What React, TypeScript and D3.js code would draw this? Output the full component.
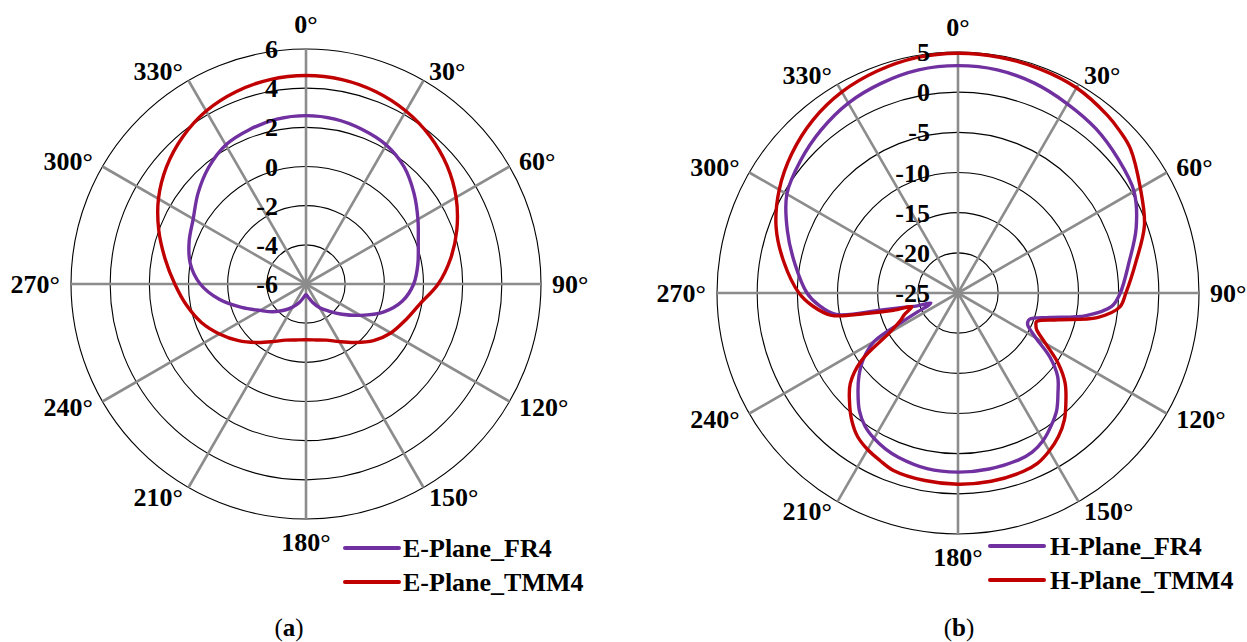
import React from 'react';
import * as d3 from 'd3';

// ---------- DATA ----------
const angleTicks = [0, 30, 60, 90, 120, 150, 180, 210, 240, 270, 300, 330];

const eTicks = [-6, -4, -2, 0, 2, 4, 6];
const hTicks = [-25, -20, -15, -10, -5, 0, 5];

const eAngles = [0, 10, 20, 30, 40, 50, 60, 70, 80, 90, 100, 110, 120, 130, 140, 150, 160, 170,
  180, 190, 200, 210, 220, 230, 240, 250, 260, 270, 280, 290, 300, 310, 320, 330, 340, 350];
const eFr4 = [2.6, 2.55, 2.4, 2.2, 1.8, 1.2, 0.6, 0.1, -0.2, -0.5, -1.0, -1.8, -2.8, -3.6, -4.2, -4.6,
  -5.0, -5.3, -5.45, -5.3, -5.0, -4.65, -4.25, -3.8, -3.3, -2.5, -1.5, -0.6, 0.0, 0.35, 0.65, 1.2, 1.75, 2.2, 2.4, 2.55];
const eTmm4 = [4.65, 4.6, 4.45, 4.2, 3.85, 3.4, 2.85, 2.2, 1.5, 0.75, -0.1, -0.6, -1.0, -1.5, -2.1, -2.6,
  -2.95, -3.1, -3.15, -3.1, -2.95, -2.6, -2.1, -1.5, -0.9, -0.3, 0.2, 0.7, 1.3, 2.0, 2.7, 3.3, 3.8, 4.2, 4.45, 4.6];

const hFr4Angles = [0, 10, 20, 30, 40, 50, 60, 70, 80, 90, 95, 100, 105, 110, 112.5, 115, 120, 125, 130, 135,
  140, 145, 150, 155, 160, 170, 180, 190, 200, 205, 210, 215, 220, 225, 230, 235, 240, 242.5, 245, 247.5,
  250, 252.5, 255, 257.5, 260, 265, 270, 280, 290, 300, 310, 320, 330, 340, 350];
const hFr4 = [3.3, 3.2, 2.8, 2.2, 1.7, 1.0, 0.3, -1.4, -3.4, -4.8, -5.8, -8.8, -13.2, -15.5, -15.6, -15.4, -13.8, -11.0, -8.8, -7.4,
  -5.9, -4.8, -3.8, -3.15, -2.9, -2.75, -2.7, -2.8, -3.25, -3.6, -4.1, -4.8, -5.9, -7.4, -8.9, -10.6, -13.0, -17.0, -19.5, -21.0,
  -21.4, -19.7, -18.2, -15.3, -9.6, -7.6, -6.2, -4.4, -2.4, -0.4, 0.6, 1.5, 2.3, 2.8, 3.2];

const hTmm4Angles = [0, 10, 20, 30, 40, 45, 50, 60, 70, 80, 90, 95, 100, 105, 110, 112.5, 115, 120, 125, 130,
  135, 140, 145, 150, 155, 160, 170, 180, 190, 200, 205, 210, 215, 220, 225, 230, 235, 240, 245, 248,
  251, 253.5, 255, 257.5, 260, 265, 270, 280, 290, 300, 310, 320, 330, 340, 350];
const hTmm4 = [4.85, 4.8, 4.7, 4.5, 3.9, 3.5, 3.0, 1.2, -0.3, -2.5, -4.1, -4.8, -7.4, -12.1, -14.6, -14.5, -14.2, -12.4, -9.8, -7.6,
  -6.0, -4.4, -3.2, -2.3, -1.6, -1.35, -1.2, -1.2, -1.3, -1.5, -2.0, -2.5, -3.2, -4.4, -5.9, -7.5, -10.3, -15.2, -17.2, -17.8,
  -18.6, -19.0, -16.7, -13.2, -9.0, -6.8, -5.2, -3.0, -0.9, 0.7, 2.0, 3.1, 3.9, 4.4, 4.75];

const eSeriesNames = ['E-Plane_FR4', 'E-Plane_TMM4'];
const hSeriesNames = ['H-Plane_FR4', 'H-Plane_TMM4'];

const PURPLE = '#7030A0';
const RED = '#C00000';
const FONT = "'Liberation Serif', 'Times New Roman', serif";

type Series = { name: string; color: string; angles: number[]; values: number[] };

function PolarPanel(props: {
  cx: number; cy: number; R: number; ticks: number[]; series: Series[];
  legendX: number; legendY: number; legendGap: number; caption: string; captionX: number;
}) {
  const { cx, cy, R, ticks, series, legendX, legendY, legendGap, caption, captionX } = props;
  const r = d3.scaleLinear().domain([ticks[0], ticks[ticks.length - 1]]).range([0, R]);
  const toRad = (a: number) => (a * Math.PI) / 180;
  const line = d3
    .lineRadial<{ a: number; v: number }>()
    .angle((d) => toRad(d.a))
    .radius((d) => r(d.v))
    .curve(d3.curveCatmullRomClosed.alpha(0.5));

  return (
    <g>
      {ticks.slice(1).map((t) => (
        <circle key={'c' + t} cx={cx} cy={cy} r={r(t)} fill="none" stroke="#000" strokeWidth={1.1} />
      ))}
      {angleTicks.map((a) => (
        <line
          key={'s' + a}
          x1={cx}
          y1={cy}
          x2={cx + R * Math.sin(toRad(a))}
          y2={cy - R * Math.cos(toRad(a))}
          stroke="#8c8c8c"
          strokeWidth={2.6}
        />
      ))}
      {series.map((s) => (
        <path
          key={s.name}
          transform={`translate(${cx},${cy})`}
          d={line(s.angles.map((a, i) => ({ a, v: s.values[i] }))) || ''}
          fill="none"
          stroke={s.color}
          strokeWidth={3.4}
        />
      ))}
      {ticks.map((t) => (
        <text
          key={'t' + t}
          x={cx - 28}
          y={cy - r(t)}
          dy="0.35em"
          textAnchor="end"
          fontFamily={FONT}
          fontWeight="bold"
          fontSize={26}
          fill="#000"
        >
          {t}
        </text>
      ))}
      {angleTicks.map((a) => {
        const d = R + 11;
        const s = Math.sin(toRad(a));
        const c = Math.cos(toRad(a));
        const px = cx + d * s;
        const py = cy - d * c;
        let anchor: 'start' | 'middle' | 'end' = 'middle';
        let y = py;
        let dy = '0.35em';
        if (a === 0) {
          y = py - 5;
          dy = '0';
        } else if (a === 180) {
          y = py + 21;
          dy = '0';
        } else {
          anchor = s > 0 ? 'start' : 'end';
        }
        return (
          <text
            key={'a' + a}
            x={px}
            y={y}
            dy={dy}
            textAnchor={anchor}
            fontFamily={FONT}
            fontWeight="bold"
            fontSize={26}
            fill="#000"
          >
            {a + '°'}
          </text>
        );
      })}
      {series.map((s, i) => (
        <g key={'l' + s.name}>
          <line
            x1={legendX}
            x2={legendX + 54}
            y1={legendY + i * 34}
            y2={legendY + i * 34}
            stroke={s.color}
            strokeWidth={4}
            strokeLinecap="round"
          />
          <text
            x={legendX + 54 + legendGap}
            y={legendY + i * 34}
            dy="0.35em"
            fontFamily={FONT}
            fontWeight="bold"
            fontSize={26}
            fill="#000"
          >
            {s.name}
          </text>
        </g>
      ))}
      <text x={captionX} y={636} textAnchor="middle" fontFamily={FONT} fontSize={25} fill="#000">
        (<tspan fontWeight="bold">{caption}</tspan>)
      </text>
    </g>
  );
}

export default function App() {
  const eSeries: Series[] = [
    { name: eSeriesNames[0], color: PURPLE, angles: eAngles, values: eFr4 },
    { name: eSeriesNames[1], color: RED, angles: eAngles, values: eTmm4 },
  ];
  const hSeries: Series[] = [
    { name: hSeriesNames[0], color: PURPLE, angles: hFr4Angles, values: hFr4 },
    { name: hSeriesNames[1], color: RED, angles: hTmm4Angles, values: hTmm4 },
  ];
  return (
    <svg
      width={1247}
      height={642}
      style={{ position: 'absolute', left: 0, top: 0, background: '#fff' }}
    >
      <rect width={1247} height={642} fill="#fff" />
      <PolarPanel
        cx={306}
        cy={284}
        R={235}
        ticks={eTicks}
        series={eSeries}
        legendX={345}
        legendY={548}
        legendGap={4}
        caption="a"
        captionX={289}
      />
      <PolarPanel
        cx={958}
        cy={293}
        R={241}
        ticks={hTicks}
        series={hSeries}
        legendX={990}
        legendY={546}
        legendGap={6}
        caption="b"
        captionX={959}
      />
    </svg>
  );
}
